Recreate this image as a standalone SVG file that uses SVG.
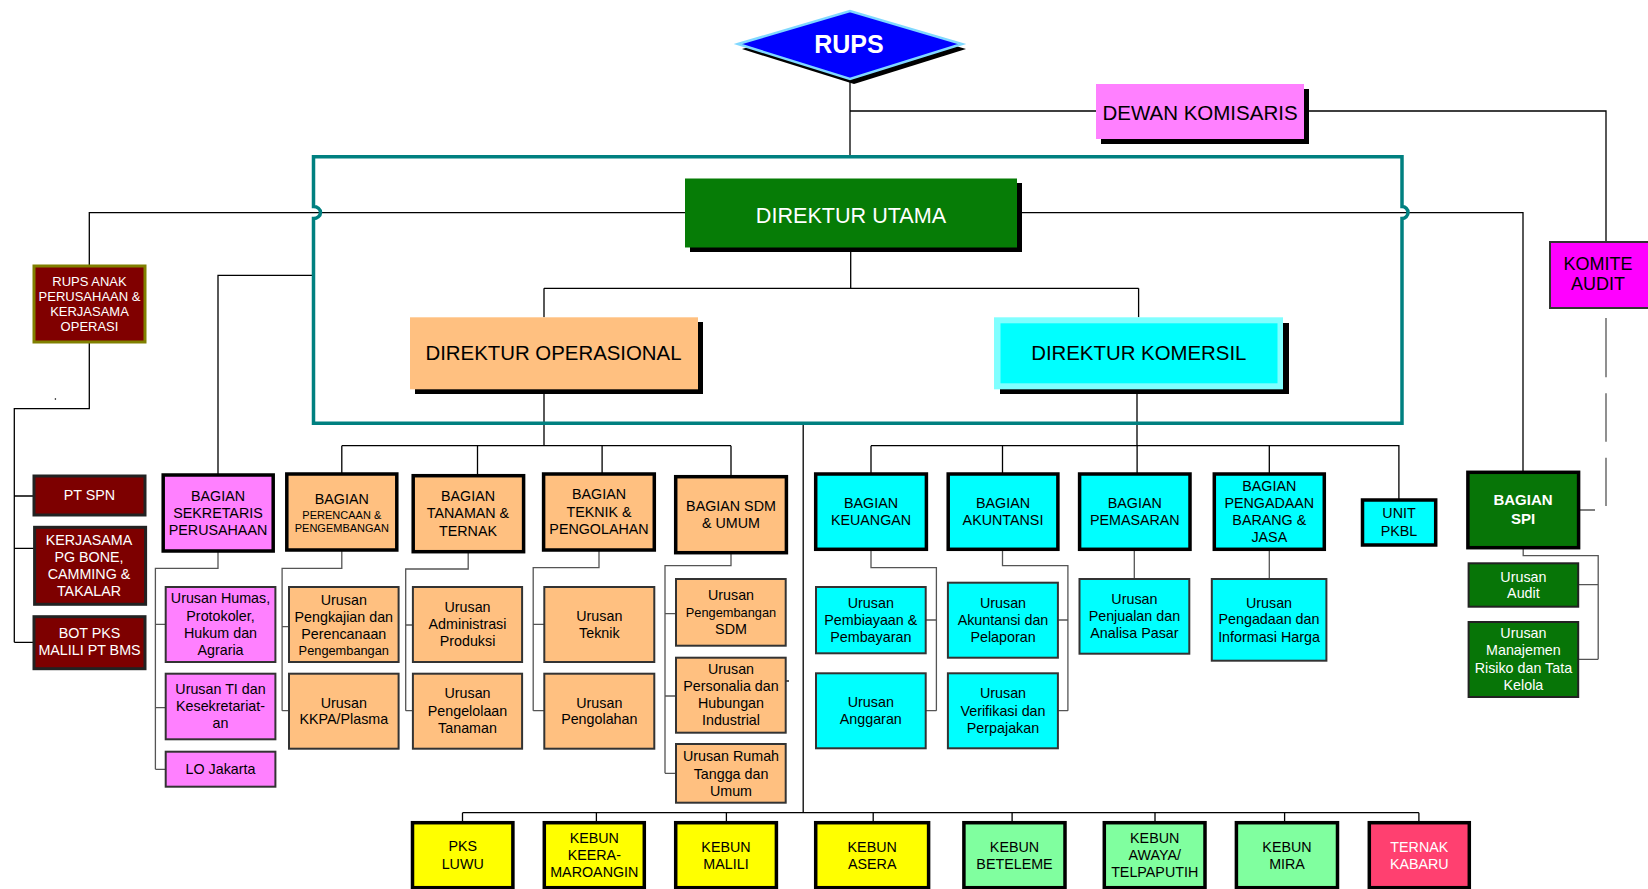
<svg xmlns="http://www.w3.org/2000/svg" width="1648" height="889" viewBox="0 0 1648 889">
<style>
.t{font-family:"Liberation Sans",Arial,sans-serif;text-anchor:middle;dominant-baseline:central;fill:#000}
.w{fill:#fff}
.f11{font-size:11px}.f12{font-size:12.8px}.f13{font-size:13px}.f14{font-size:14.3px}.f15b{font-size:15px;font-weight:bold}
.ln{stroke:#000;stroke-width:1.3;fill:none}
.lg{stroke:#555;stroke-width:1.3;fill:none}
.bk{stroke:#000;stroke-width:3.5}
.th{stroke:#333;stroke-width:2}
.pink{fill:#ff80ff}.org{fill:#ffc080}.cyan{fill:#00ffff}.yel{fill:#ffff00}.lgr{fill:#80ff9f}.mar{fill:#7d0000}.dgr{fill:#077507}
.sh{fill:#000}
</style>
<rect width="1648" height="889" fill="#fff"/>

<g id="connectors">
  <path class="ln" d="M850,79V157 M850,111H1096 M1304,111H1606V242"/>
  <path class="ln" d="M89.3,265.7V212.7H685 M1017,212.7H1523V472"/>
  <path class="ln" d="M89.3,341.7V408.7H14.3V642.3 M14.3,496H34 M14.3,548.3H34.6 M14.3,642.3H34"/>
  <path class="ln" d="M313.5,275.3H218V475"/>
  <path class="ln" d="M850.7,247.3V288.3 M544,288.3H1138.6 M544,288.3V317.3 M1138.6,288.3V317.3"/>
  <path class="ln" d="M544,389V445.7 M341.8,445.7H731 M341.8,445.7V474 M477.5,445.7V475.7 M602.1,445.7V474 M731,445.7V476.7"/>
  <path class="ln" d="M803.2,423.3V812.7"/>
  <path class="ln" d="M1137,389V445.7 M871,445.7H1398.9V500 M871,445.7V474 M1002.5,445.7V474 M1137.1,445.7V474 M1269.3,445.7V474"/>
  <path class="ln" d="M462.5,812.7H1418.9 M462.5,812.7V822.7 M596.4,812.7V822.7 M726.4,812.7V822.7 M873.2,812.7V822.7 M1012.1,812.7V822.7 M1155,812.7V822.7 M1284.6,812.7V822.7 M1418.9,812.7V822.7"/>
  <path class="lg" d="M218,551V568.3H155.4V769.3 M155.4,624.3H165.7 M155.4,707.7H165.7 M155.4,769.3H165.7"/>
  <path class="lg" d="M341.8,550V568.3H282.1V710.7 M282.1,626.7H289 M282.1,710.7H289"/>
  <path class="lg" d="M468.2,551.7V569H405.7V710.7 M405.7,625H412.9 M405.7,710.7H412.9"/>
  <path class="lg" d="M599,550V567.7H533.2V710.7 M533.2,624.3H544.3 M533.2,710.7H544.3"/>
  <path class="lg" d="M731,552.7V565.7H665V773.3 M665,613.7H676 M665,696H676 M665,773.3H676"/>
  <path class="lg" d="M871,549.3V567.7H936.4V710.7 M936.4,620H925.7 M936.4,710.7H925.7"/>
  <path class="lg" d="M1002.5,549.3V565.7H1067.9V710.7 M1067.9,620H1057.9 M1067.9,710.7H1057.9"/>
  <path class="lg" d="M1134.3,549.3V579 M1269.3,549.3V579"/>
  <path class="lg" d="M1523.2,547.7V555.7H1598.2V659.3 M1598.2,584.7H1578.2 M1598.2,659.3H1578.2 M1578,510H1595"/>
  <path class="lg" d="M1606,318V377.3 M1606,393.3V441.7 M1606,457.7V506"/>
  <path class="ln" d="M783,681H789"/>
  <circle cx="55.4" cy="399" r="0.8" fill="#000"/>
</g>

<g id="frame">
  <path d="M313.5,156.7H1402V206.5A6,6 0 0 1 1402,218.5V423.3H313.5V218.5A7,6 0 0 0 313.5,206.5Z" fill="none" stroke="#008080" stroke-width="3.5"/>
</g>

<g id="rups">
  <polygon points="742,49 854,16 966,49 854,84" class="sh"/>
  <polygon points="738,44 850,11 962,44 850,79" fill="#0000ff" stroke="#80d8ff" stroke-width="2.5"/>
  <text class="t w" x="849" y="44" style="font-size:25px;font-weight:bold">RUPS</text>
</g>

<g id="dewan-komisaris">
  <rect x="1101" y="89" width="208" height="55" class="sh"/>
  <rect x="1096" y="84" width="208" height="55" class="pink"/>
  <text class="t" x="1200" y="112" style="font-size:20.5px">DEWAN KOMISARIS</text>
</g>

<g id="komite-audit">
  <rect x="1550" y="242" width="110" height="66" fill="#ff00ff" stroke="#333" stroke-width="2"/>
  <text class="t" x="1598" y="263.5" style="font-size:18px">KOMITE</text>
  <text class="t" x="1598" y="284" style="font-size:18px">AUDIT</text>
</g>

<g id="direktur-utama">
  <rect x="690" y="183" width="332" height="69" class="sh"/>
  <rect x="685" y="178.5" width="332" height="69" fill="#067c06"/>
  <text class="t w" x="851" y="215" style="font-size:21.6px">DIREKTUR UTAMA</text>
</g>

<g id="direktur-operasional">
  <rect x="415" y="322" width="288" height="72" class="sh"/>
  <rect x="410" y="317.3" width="288" height="72" class="org"/>
  <text class="t" x="553.5" y="353" style="font-size:20.4px">DIREKTUR OPERASIONAL</text>
</g>

<g id="direktur-komersil">
  <rect x="1000" y="323" width="289" height="71" class="sh"/>
  <rect x="994" y="317.3" width="289" height="72" fill="#80ffff"/>
  <rect x="1000.5" y="323.3" width="277" height="60" class="cyan"/>
  <text class="t" x="1138.8" y="353" style="font-size:20.4px">DIREKTUR KOMERSIL</text>
</g>

<g id="rups-anak">
  <rect x="34" y="266" width="111" height="76" fill="#800000" stroke="#808000" stroke-width="3"/>
  <text class="t w f13"><tspan x="89.5" y="280.7">RUPS ANAK</tspan><tspan x="89.5" y="295.7">PERUSAHAAN &amp;</tspan><tspan x="89.5" y="310.7">KERJASAMA</tspan><tspan x="89.5" y="325.7">OPERASI</tspan></text>
</g>
<g id="pt-spn">
  <rect x="34" y="476" width="111" height="39" class="mar" stroke="#222" stroke-width="3"/>
  <text class="t w f14" x="89.5" y="495">PT SPN</text>
</g>
<g id="kerjasama">
  <rect x="34.6" y="527.3" width="111" height="77" class="mar" stroke="#222" stroke-width="3"/>
  <text class="t w f14"><tspan x="89" y="540">KERJASAMA</tspan><tspan x="89" y="557">PG BONE,</tspan><tspan x="89" y="574">CAMMING &amp;</tspan><tspan x="89" y="591">TAKALAR</tspan></text>
</g>
<g id="bot-pks">
  <rect x="34" y="616.7" width="111" height="52" class="mar" stroke="#222" stroke-width="3"/>
  <text class="t w f14"><tspan x="89.5" y="633.3">BOT PKS</tspan><tspan x="89.5" y="650.3">MALILI PT BMS</tspan></text>
</g>

<g id="bagian-sekretaris">
  <rect x="163.2" y="475" width="110" height="76" class="pink bk"/>
  <text class="t f14"><tspan x="218" y="496">BAGIAN</tspan><tspan x="218" y="513">SEKRETARIS</tspan><tspan x="218" y="530">PERUSAHAAN</tspan></text>
</g>
<g id="urusan-humas">
  <rect x="165.7" y="587" width="109.7" height="75" class="pink th"/>
  <text class="t f14"><tspan x="220.5" y="598.3">Urusan Humas,</tspan><tspan x="220.5" y="615.7">Protokoler,</tspan><tspan x="220.5" y="633">Hukum dan</tspan><tspan x="220.5" y="650.3">Agraria</tspan></text>
</g>
<g id="urusan-ti">
  <rect x="165.7" y="673.7" width="109.7" height="65.6" class="pink th"/>
  <text class="t f14"><tspan x="220.5" y="689.3">Urusan TI dan</tspan><tspan x="220.5" y="706.3">Kesekretariat-</tspan><tspan x="220.5" y="723.3">an</tspan></text>
</g>
<g id="lo-jakarta">
  <rect x="165.7" y="751.7" width="109.7" height="35" class="pink th"/>
  <text class="t f14" x="220.5" y="769.3">LO Jakarta</text>
</g>

<g id="bagian-perencanaan">
  <rect x="286.8" y="474" width="110" height="76" class="org bk"/>
  <text class="t f14" x="341.8" y="499.3">BAGIAN</text>
  <text class="t f11"><tspan x="341.8" y="515.3">PERENCAAN &amp;</tspan><tspan x="341.8" y="528">PENGEMBANGAN</tspan></text>
</g>
<g id="urusan-pengkajian">
  <rect x="289" y="587" width="109.6" height="75" class="org th"/>
  <text class="t f14"><tspan x="343.8" y="600.3">Urusan</tspan><tspan x="343.8" y="617.3">Pengkajian dan</tspan><tspan x="343.8" y="634.3">Perencanaan</tspan></text>
  <text class="t f12" x="343.8" y="650">Pengembangan</text>
</g>
<g id="urusan-kkpa">
  <rect x="289" y="673.7" width="109.6" height="75" class="org th"/>
  <text class="t f14"><tspan x="343.8" y="702.7">Urusan</tspan><tspan x="343.8" y="719.3">KKPA/Plasma</tspan></text>
</g>

<g id="bagian-tanaman">
  <rect x="413.2" y="475.7" width="110.4" height="76" class="org bk"/>
  <text class="t f14"><tspan x="468" y="496">BAGIAN</tspan><tspan x="468" y="513">TANAMAN &amp;</tspan><tspan x="468" y="531">TERNAK</tspan></text>
</g>
<g id="urusan-administrasi">
  <rect x="412.9" y="587" width="109.2" height="75" class="org th"/>
  <text class="t f14"><tspan x="467.5" y="607.3">Urusan</tspan><tspan x="467.5" y="624">Administrasi</tspan><tspan x="467.5" y="641">Produksi</tspan></text>
</g>
<g id="urusan-pengelolaan">
  <rect x="412.9" y="673.7" width="109.2" height="75" class="org th"/>
  <text class="t f14"><tspan x="467.5" y="693.3">Urusan</tspan><tspan x="467.5" y="711">Pengelolaan</tspan><tspan x="467.5" y="728">Tanaman</tspan></text>
</g>

<g id="bagian-teknik">
  <rect x="543.6" y="474" width="110.7" height="76" class="org bk"/>
  <text class="t f14"><tspan x="599" y="494">BAGIAN</tspan><tspan x="599" y="511.7">TEKNIK &amp;</tspan><tspan x="599" y="529.3">PENGOLAHAN</tspan></text>
</g>
<g id="urusan-teknik">
  <rect x="544.3" y="587" width="110" height="75" class="org th"/>
  <text class="t f14"><tspan x="599.3" y="616">Urusan</tspan><tspan x="599.3" y="633.3">Teknik</tspan></text>
</g>
<g id="urusan-pengolahan">
  <rect x="544.3" y="673.7" width="110" height="75" class="org th"/>
  <text class="t f14"><tspan x="599.3" y="702.7">Urusan</tspan><tspan x="599.3" y="719.3">Pengolahan</tspan></text>
</g>

<g id="bagian-sdm">
  <rect x="675.7" y="476.7" width="110.7" height="76" class="org bk"/>
  <text class="t f14"><tspan x="731" y="506">BAGIAN SDM</tspan><tspan x="731" y="523.3">&amp; UMUM</tspan></text>
</g>
<g id="urusan-pengembangan-sdm">
  <rect x="676" y="579" width="109.7" height="66.7" class="org th"/>
  <text class="t f14" x="731" y="595.3">Urusan</text>
  <text class="t f12" x="731" y="612">Pengembangan</text>
  <text class="t f14" x="731" y="629.3">SDM</text>
</g>
<g id="urusan-personalia">
  <rect x="676" y="657.7" width="109.7" height="75" class="org th"/>
  <text class="t f14"><tspan x="731" y="669.3">Urusan</tspan><tspan x="731" y="686.3">Personalia dan</tspan><tspan x="731" y="703.3">Hubungan</tspan><tspan x="731" y="720">Industrial</tspan></text>
</g>
<g id="urusan-rumah-tangga">
  <rect x="676" y="744" width="109.7" height="58.7" class="org th"/>
  <text class="t f14"><tspan x="731" y="756">Urusan Rumah</tspan><tspan x="731" y="774.3">Tangga dan</tspan><tspan x="731" y="791">Umum</tspan></text>
</g>

<g id="bagian-keuangan">
  <rect x="815.7" y="474" width="110.7" height="75.3" class="cyan bk"/>
  <text class="t f14"><tspan x="871" y="503.3">BAGIAN</tspan><tspan x="871" y="520">KEUANGAN</tspan></text>
</g>
<g id="urusan-pembiayaan">
  <rect x="816" y="587" width="109.7" height="66.3" class="cyan th"/>
  <text class="t f14"><tspan x="870.8" y="603.3">Urusan</tspan><tspan x="870.8" y="620.3">Pembiayaan &amp;</tspan><tspan x="870.8" y="637">Pembayaran</tspan></text>
</g>
<g id="urusan-anggaran">
  <rect x="816" y="673.3" width="109.7" height="75" class="cyan th"/>
  <text class="t f14"><tspan x="870.8" y="702.3">Urusan</tspan><tspan x="870.8" y="719.3">Anggaran</tspan></text>
</g>

<g id="bagian-akuntansi">
  <rect x="948.2" y="474" width="109.7" height="75.3" class="cyan bk"/>
  <text class="t f14"><tspan x="1003" y="503.3">BAGIAN</tspan><tspan x="1003" y="520">AKUNTANSI</tspan></text>
</g>
<g id="urusan-akuntansi">
  <rect x="947.9" y="582.7" width="110" height="75" class="cyan th"/>
  <text class="t f14"><tspan x="1003" y="602.7">Urusan</tspan><tspan x="1003" y="620.3">Akuntansi dan</tspan><tspan x="1003" y="637.3">Pelaporan</tspan></text>
</g>
<g id="urusan-verifikasi">
  <rect x="947.9" y="673.3" width="110" height="75" class="cyan th"/>
  <text class="t f14"><tspan x="1003" y="693.3">Urusan</tspan><tspan x="1003" y="711">Verifikasi dan</tspan><tspan x="1003" y="728">Perpajakan</tspan></text>
</g>

<g id="bagian-pemasaran">
  <rect x="1079.6" y="474" width="110.4" height="75.3" class="cyan bk"/>
  <text class="t f14"><tspan x="1134.8" y="503.3">BAGIAN</tspan><tspan x="1134.8" y="520">PEMASARAN</tspan></text>
</g>
<g id="urusan-penjualan">
  <rect x="1079.5" y="579" width="109.8" height="74.7" class="cyan th"/>
  <text class="t f14"><tspan x="1134.4" y="599.3">Urusan</tspan><tspan x="1134.4" y="616.3">Penjualan dan</tspan><tspan x="1134.4" y="633">Analisa Pasar</tspan></text>
</g>

<g id="bagian-pengadaan">
  <rect x="1214.3" y="474" width="110" height="75.3" class="cyan bk"/>
  <text class="t f14"><tspan x="1269.3" y="486">BAGIAN</tspan><tspan x="1269.3" y="503.3">PENGADAAN</tspan><tspan x="1269.3" y="520.3">BARANG &amp;</tspan><tspan x="1269.3" y="537">JASA</tspan></text>
</g>
<g id="urusan-pengadaan">
  <rect x="1211.8" y="579" width="114.6" height="81.7" class="cyan th"/>
  <text class="t f14"><tspan x="1269" y="602.7">Urusan</tspan><tspan x="1269" y="619.3">Pengadaan dan</tspan><tspan x="1269" y="636.7">Informasi Harga</tspan></text>
</g>

<g id="unit-pkbl">
  <rect x="1362.5" y="500" width="73.2" height="45" class="cyan bk"/>
  <text class="t f14"><tspan x="1399" y="513.3">UNIT</tspan><tspan x="1399" y="531">PKBL</tspan></text>
</g>

<g id="bagian-spi">
  <rect x="1467.9" y="472.3" width="110.7" height="75.4" class="dgr bk"/>
  <text class="t w f15b"><tspan x="1523" y="499.3">BAGIAN</tspan><tspan x="1523" y="518.3">SPI</tspan></text>
</g>
<g id="urusan-audit">
  <rect x="1468.6" y="563.3" width="109.6" height="43.4" class="dgr" stroke="#222" stroke-width="2"/>
  <text class="t w f14"><tspan x="1523.4" y="576.7">Urusan</tspan><tspan x="1523.4" y="593.3">Audit</tspan></text>
</g>
<g id="urusan-manajemen-risiko">
  <rect x="1468.6" y="622" width="109.6" height="75" class="dgr" stroke="#222" stroke-width="2"/>
  <text class="t w f14"><tspan x="1523.4" y="633.3">Urusan</tspan><tspan x="1523.4" y="650.3">Manajemen</tspan><tspan x="1523.4" y="668.3">Risiko dan Tata</tspan><tspan x="1523.4" y="685">Kelola</tspan></text>
</g>

<g id="pks-luwu">
  <rect x="412.5" y="822.7" width="100.4" height="65" class="yel bk"/>
  <text class="t f14"><tspan x="462.7" y="846">PKS</tspan><tspan x="462.7" y="864">LUWU</tspan></text>
</g>
<g id="kebun-keera">
  <rect x="544.3" y="822.7" width="100" height="65" class="yel bk"/>
  <text class="t f14"><tspan x="594.3" y="837.7">KEBUN</tspan><tspan x="594.3" y="855.3">KEERA-</tspan><tspan x="594.3" y="872">MAROANGIN</tspan></text>
</g>
<g id="kebun-malili">
  <rect x="675.7" y="822.7" width="100.7" height="65" class="yel bk"/>
  <text class="t f14"><tspan x="726" y="847.3">KEBUN</tspan><tspan x="726" y="864">MALILI</tspan></text>
</g>
<g id="kebun-asera">
  <rect x="815.7" y="822.7" width="112.9" height="65" class="yel bk"/>
  <text class="t f14"><tspan x="872.2" y="847.3">KEBUN</tspan><tspan x="872.2" y="864">ASERA</tspan></text>
</g>
<g id="kebun-beteleme">
  <rect x="963.9" y="822.7" width="101.1" height="65" class="lgr bk"/>
  <text class="t f14"><tspan x="1014.5" y="847.3">KEBUN</tspan><tspan x="1014.5" y="864">BETELEME</tspan></text>
</g>
<g id="kebun-awaya">
  <rect x="1104.3" y="822.7" width="100.7" height="65" class="lgr bk"/>
  <text class="t f14"><tspan x="1154.7" y="837.7">KEBUN</tspan><tspan x="1154.7" y="855.3">AWAYA/</tspan><tspan x="1154.7" y="872">TELPAPUTIH</tspan></text>
</g>
<g id="kebun-mira">
  <rect x="1236.4" y="822.7" width="101.1" height="65" class="lgr bk"/>
  <text class="t f14"><tspan x="1287" y="847.3">KEBUN</tspan><tspan x="1287" y="864">MIRA</tspan></text>
</g>
<g id="ternak-kabaru">
  <rect x="1369.3" y="822.7" width="100" height="65" fill="#ff4070" class="bk"/>
  <text class="t w f14"><tspan x="1419.3" y="847.3">TERNAK</tspan><tspan x="1419.3" y="864">KABARU</tspan></text>
</g>
</svg>
